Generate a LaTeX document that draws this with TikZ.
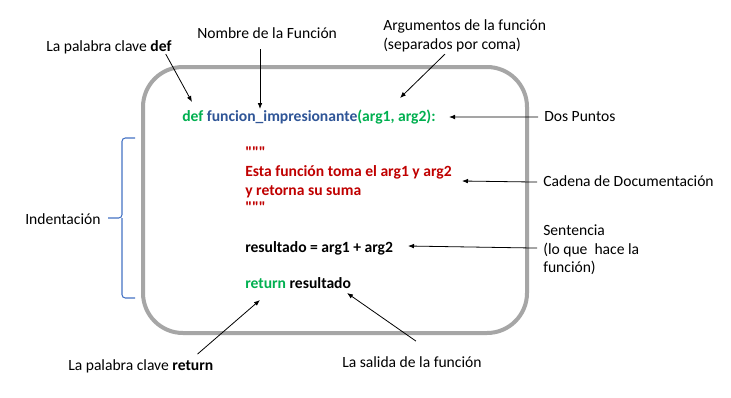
\documentclass[tikz,border=0pt]{standalone}
\usepackage{fontspec}
\setmainfont{Carlito}
\newfontfamily\plainquotes{Carlito}[Ligatures=TeXOff]
\usepackage{xcolor}
\usetikzlibrary{arrows.meta,positioning,calc}

\definecolor{kwgreen}{HTML}{00B050}
\definecolor{fnblue}{HTML}{2F5597}
\definecolor{docred}{HTML}{C00000}
\definecolor{boxgray}{HTML}{A6A6A6}
\definecolor{bracecol}{HTML}{4472C4}

\begin{document}
\begin{tikzpicture}[
    x=0.75pt, y=-0.75pt,
    funcbox/.style={draw=boxgray, line width=3pt, rounded corners=30pt},
    note/.style={inner sep=0pt, anchor=base west, text height=8pt, text depth=2.1pt,
                 font=\fontsize{11.7pt}{14pt}\selectfont},
    code/.style={note, font=\fontsize{11.7pt}{14pt}\selectfont\bfseries},
    doc/.style={code, text=docred},
    pointer/.style={-{Latex[length=4.5pt,width=3.5pt]}, line width=0.6pt},
    indentbrace/.style={draw=bracecol, line width=0.8pt, rounded corners=2.5pt}
]
    \path[fill=white] (0,0) rectangle (731,397);

    % the function body
    \draw[funcbox] (143,67) rectangle (527,333);

    \node[code] (defline) at (182,121)
        {\textcolor{kwgreen}{def} \textcolor{fnblue}{funcion\_impresionante}\textcolor{kwgreen}{(arg1, arg2):}};
    \node[doc] (qopen) at (245,157) {\plainquotes\bfseries """};
    \node[doc] (doc1) at (245,176) {Esta función toma el arg1 y arg2};
    \node[doc] (doc2) at (245,195) {y retorna su suma};
    \node[doc] (qclose) at (245,212) {\plainquotes\bfseries """};
    \node[code] (stmt) at (245,252) {resultado = arg1 + arg2};
    \node[code] (ret) at (245,288) {\textcolor{kwgreen}{return} resultado};

    % labels
    \node[note] (kwdef) at (46,51) {La palabra clave \textbf{def}};
    \node[note] (fname) at (197,38) {Nombre de la Función};
    \node[note] (args1) at (383,30) {Argumentos de la función};
    \node[note] (args2) at (383,49) {(separados por coma)};
    \node[note] (colon) at (544,121) {Dos Puntos};
    \node[note] (docstr) at (543,186) {Cadena de Documentación};
    \node[note] (sent1) at (543,235) {Sentencia};
    \node[note] (sent2) at (543,254) {(lo que\ \ hace la};
    \node[note] (sent3) at (543,272) {función)};
    \node[note] (indent) at (25,224) {Indentación};
    \node[note] (kwret) at (68,370) {La palabra clave \textbf{return}};
    \node[note] (output) at (342,367) {La salida de la función};

    % arrow ends
    \coordinate (defTip) at (192,102);
    \coordinate (fnTip) at (260,109);
    \coordinate (argsTip) at (400,98);
    \coordinate (colonTip) at (449,117);
    \coordinate (docTip) at (462,181);
    \coordinate (stmtTip) at (408,246);
    \coordinate (retTip) at (260,300);
    \coordinate (outTip) at (347,293);

    \draw[pointer] ([shift={(-6,7)}]kwdef.east) -- (defTip);
    \draw[pointer, shorten <=6pt] (fname.south -| fnTip) -- (fnTip);
    \draw[pointer] ([shift={(62,2)}]args2.south west) -- (argsTip);
    \draw[pointer] ([xshift=-4.5pt]colon.west) -- (colonTip);
    \draw[pointer] ([xshift=-4.5pt]docstr.west) -- (docTip);
    \draw[pointer] ([shift={(-6,-2)}]sent2.west) -- (stmtTip);
    \draw[pointer] ([shift={(-16,-5)}]kwret.north east) -- (retTip);
    \draw[pointer] ([shift={(4,-15)}]output.north) -- (outTip);

    % indentation brace
    \draw[indentbrace] (135,138) -- (122,138) -- (122,218) -- (108,218)
                       (122,218) -- (122,298) -- (135,298);
\end{tikzpicture}
\end{document}
